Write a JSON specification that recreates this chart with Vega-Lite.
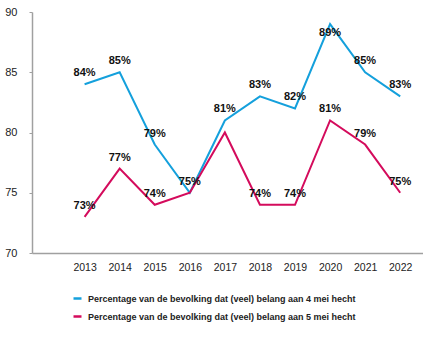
{
  "$schema": "https://vega.github.io/schema/vega-lite/v6.json",
  "autosize": "none",
  "width": 391,
  "height": 241,
  "padding": {"left": 32, "top": 12, "right": 0, "bottom": 86},
  "background": "white",
  "data": {
    "values": [
      {"year": 2013, "series": "Percentage van de bevolking dat (veel) belang aan 4 mei hecht", "value": 84, "label": "84%"},
      {"year": 2014, "series": "Percentage van de bevolking dat (veel) belang aan 4 mei hecht", "value": 85, "label": "85%"},
      {"year": 2015, "series": "Percentage van de bevolking dat (veel) belang aan 4 mei hecht", "value": 79, "label": "79%"},
      {"year": 2016, "series": "Percentage van de bevolking dat (veel) belang aan 4 mei hecht", "value": 75, "label": "75%"},
      {"year": 2017, "series": "Percentage van de bevolking dat (veel) belang aan 4 mei hecht", "value": 81, "label": "81%"},
      {"year": 2018, "series": "Percentage van de bevolking dat (veel) belang aan 4 mei hecht", "value": 83, "label": "83%"},
      {"year": 2019, "series": "Percentage van de bevolking dat (veel) belang aan 4 mei hecht", "value": 82, "label": "82%"},
      {"year": 2020, "series": "Percentage van de bevolking dat (veel) belang aan 4 mei hecht", "value": 89, "label": "89%"},
      {"year": 2021, "series": "Percentage van de bevolking dat (veel) belang aan 4 mei hecht", "value": 85, "label": "85%"},
      {"year": 2022, "series": "Percentage van de bevolking dat (veel) belang aan 4 mei hecht", "value": 83, "label": "83%"},
      {"year": 2013, "series": "Percentage van de bevolking dat (veel) belang aan 5 mei hecht", "value": 73, "label": "73%"},
      {"year": 2014, "series": "Percentage van de bevolking dat (veel) belang aan 5 mei hecht", "value": 77, "label": "77%"},
      {"year": 2015, "series": "Percentage van de bevolking dat (veel) belang aan 5 mei hecht", "value": 74, "label": "74%"},
      {"year": 2016, "series": "Percentage van de bevolking dat (veel) belang aan 5 mei hecht", "value": 75, "label": ""},
      {"year": 2017, "series": "Percentage van de bevolking dat (veel) belang aan 5 mei hecht", "value": 80, "label": ""},
      {"year": 2018, "series": "Percentage van de bevolking dat (veel) belang aan 5 mei hecht", "value": 74, "label": "74%"},
      {"year": 2019, "series": "Percentage van de bevolking dat (veel) belang aan 5 mei hecht", "value": 74, "label": "74%"},
      {"year": 2020, "series": "Percentage van de bevolking dat (veel) belang aan 5 mei hecht", "value": 81, "label": "81%"},
      {"year": 2021, "series": "Percentage van de bevolking dat (veel) belang aan 5 mei hecht", "value": 79, "label": "79%"},
      {"year": 2022, "series": "Percentage van de bevolking dat (veel) belang aan 5 mei hecht", "value": 75, "label": "75%"}
    ]
  },
  "config": {
    "view": {"stroke": null},
    "font": "Liberation Sans"
  },
  "encoding": {
    "x": {
      "field": "year", "type": "quantitative",
      "scale": {"domain": [2011.5, 2022.65], "nice": false, "zero": false},
      "axis": {
        "title": null, "values": [2013, 2014, 2015, 2016, 2017, 2018, 2019, 2020, 2021, 2022],
        "format": "d", "grid": false, "ticks": false, "labelPadding": 9,
        "labelFontSize": 10.5, "labelColor": "#222", "domainColor": "#a0a0a0", "domainWidth": 1.5
      }
    },
    "y": {
      "field": "value", "type": "quantitative",
      "scale": {"domain": [70, 90], "nice": false, "zero": false},
      "axis": {
        "title": null, "values": [70, 75, 80, 85, 90], "grid": false,
        "tickSize": 3, "tickColor": "#a0a0a0", "labelPadding": 12,
        "labelFontSize": 11, "labelColor": "#222", "domainColor": "#a0a0a0", "domainWidth": 1.5
      }
    }
  },
  "layer": [
    {
      "mark": {"type": "line", "strokeWidth": 2},
      "encoding": {
        "color": {
          "field": "series", "type": "nominal",
          "scale": {
            "domain": ["Percentage van de bevolking dat (veel) belang aan 4 mei hecht", "Percentage van de bevolking dat (veel) belang aan 5 mei hecht"],
            "range": ["#14a0dc", "#d40b5c"]
          },
          "legend": {
            "title": null, "orient": "none", "legendX": 40, "legendY": 281,
            "symbolType": "stroke", "symbolStrokeWidth": 2.5, "symbolSize": 64,
            "labelFont": "Liberation Sans", "labelFontWeight": "bold", "labelFontSize": 9,
            "labelColor": "#222", "rowPadding": 7, "labelOffset": 5, "labelLimit": 400
          }
        }
      }
    },
    {
      "transform": [{"filter": "datum.label != '' && datum.value != 89"}],
      "mark": {"type": "text", "dy": -11, "fontWeight": "bold", "fontSize": 11, "color": "#111", "baseline": "middle"},
      "encoding": {"text": {"field": "label"}}
    },
    {
      "transform": [{"filter": "datum.value == 89"}],
      "mark": {"type": "text", "dy": 9, "fontWeight": "bold", "fontSize": 11, "color": "#111", "baseline": "middle"},
      "encoding": {"text": {"field": "label"}}
    }
  ]
}
